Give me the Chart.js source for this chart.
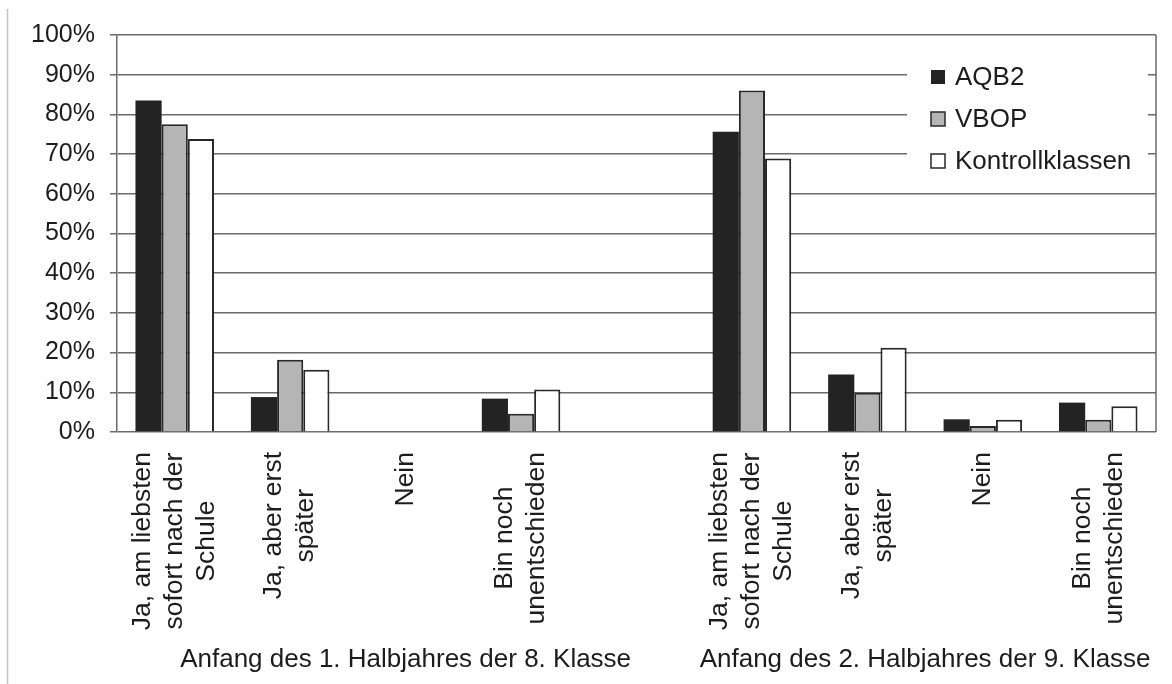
<!DOCTYPE html>
<html lang="de">
<head>
<meta charset="utf-8">
<title>Ausbildungswunsch nach der Schule</title>
<script src="https://cdn.jsdelivr.net/npm/chart.js@4.4.1/dist/chart.umd.min.js"></script>
<style>
  html, body { margin: 0; padding: 0; background: #fff; }
  #wrap { width: 1172px; height: 684px; }
</style>
</head>
<body>
<div id="wrap"><canvas id="chart" width="1172" height="684"></canvas></div>
<script>
// answer categories (multi-line labels as in the original)
const answers = [
    ['Ja, am liebsten', 'sofort nach der', 'Schule'],
    ['Ja, aber erst', 'später'],
    ['Nein'],
    ['Bin noch', 'unentschieden']
];
const periods = ['Anfang des 1. Halbjahres der 8. Klasse', 'Anfang des 2. Halbjahres der 9. Klasse'];
// first period spans the 4 answers plus an empty slot, second one the next 4
const categories = [...answers, [''], ...answers];
const periodRanges = [[0, 4], [5, 8]];

const seriesNames = ['AQB2', 'VBOP', 'Kontrollklassen'];
const aqb2 = [83.5, 8.8, 0, 8.4, null, 75.6, 14.5, 3.2, 7.4];
const vbop = [77.5, 18.2, 0, 4.6, null, 86.0, 9.9, 1.5, 3.1];
const kontroll = [73.8, 15.7, 0, 10.7, null, 68.9, 21.2, 3.1, 6.5];

const fills = ['#232323', '#b5b5b5', '#ffffff'];
const FONT = '"Liberation Sans", Arial, sans-serif';
const textColor = '#1c1c1c';

Chart.defaults.font.family = FONT;
Chart.defaults.color = textColor;

// axis labels, period titles, legend and frame
const decor = {
    id: 'decor',
    beforeDraw(chart) {
        const ctx = chart.ctx;
        ctx.save();
        ctx.strokeStyle = '#c4c4c4';
        ctx.lineWidth = 1.5;
        ctx.beginPath();
        ctx.moveTo(7.5, 9);
        ctx.lineTo(7.5, chart.height);
        ctx.stroke();
        ctx.restore();
    },
    afterDraw(chart) {
        const { ctx, chartArea: a } = chart;
        const x = chart.scales.x;
        ctx.save();

        // right edge of plot frame
        ctx.strokeStyle = '#6a6a6a';
        ctx.lineWidth = 1.5;
        ctx.beginPath();
        ctx.moveTo(a.right, a.top);
        ctx.lineTo(a.right, a.bottom);
        ctx.stroke();

        // rotated category labels, lines centred on each other
        ctx.font = '26.5px ' + FONT;
        ctx.fillStyle = textColor;
        ctx.textAlign = 'center';
        ctx.textBaseline = 'middle';
        categories.forEach((lines, i) => {
            const cx = x.getPixelForValue(i);
            const w = Math.max(...lines.map(t => ctx.measureText(t).width));
            lines.forEach((t, j) => {
                ctx.save();
                ctx.translate(cx + (j - (lines.length - 1) / 2) * 32, a.bottom + 20 + w / 2);
                ctx.rotate(-Math.PI / 2);
                ctx.fillText(t, 0, 0);
                ctx.restore();
            });
        });

        // period titles under their category ranges
        ctx.font = '26px ' + FONT;
        periods.forEach((p, k) => {
            const [s, e] = periodRanges[k];
            const mid = (x.getPixelForValue(s) + x.getPixelForValue(e)) / 2;
            ctx.fillText(p, mid, 660);
        });

        // legend box inside the plot
        ctx.fillStyle = '#fff';
        ctx.fillRect(907, 55, 241, 128);
        chart.data.datasets.forEach((ds, i) => {
            const base = 85 + i * 42;
            ctx.fillStyle = ds.backgroundColor;
            ctx.fillRect(931, base - 15, 14, 14);
            if (ds.borderWidth) {
                ctx.strokeStyle = ds.borderColor;
                ctx.lineWidth = 1.5;
                ctx.strokeRect(931, base - 15, 14, 14);
            }
            ctx.fillStyle = textColor;
            ctx.textAlign = 'left';
            ctx.textBaseline = 'alphabetic';
            ctx.fillText(ds.label, 955, base);
        });
        ctx.restore();
    }
};

new Chart(document.getElementById('chart'), {
    type: 'bar',
    data: {
        labels: categories,
        datasets: [aqb2, vbop, kontroll].map((vals, i) => ({
            label: seriesNames[i],
            data: vals,
            backgroundColor: fills[i],
            borderColor: '#282828',
            borderWidth: i === 0 ? 0 : 2,
            barPercentage: 1,
            categoryPercentage: 0.68
        }))
    },
    options: {
        responsive: false,
        animation: false,
        layout: { padding: { top: 35, right: 16, bottom: 252, left: 0 } },
        plugins: {
            legend: { display: false },
            tooltip: { enabled: false }
        },
        scales: {
            x: { display: false },
            y: {
                min: 0,
                max: 100,
                ticks: {
                    stepSize: 10,
                    padding: 15,
                    font: { size: 25 },
                    color: textColor,
                    callback: v => v + '%'
                },
                grid: { color: '#6a6a6a', lineWidth: 1.5, tickLength: 7 },
                border: { color: '#6a6a6a', width: 1.5 },
                afterFit: s => { s.width = 117; }
            }
        }
    },
    plugins: [decor]
});
</script>
</body>
</html>
